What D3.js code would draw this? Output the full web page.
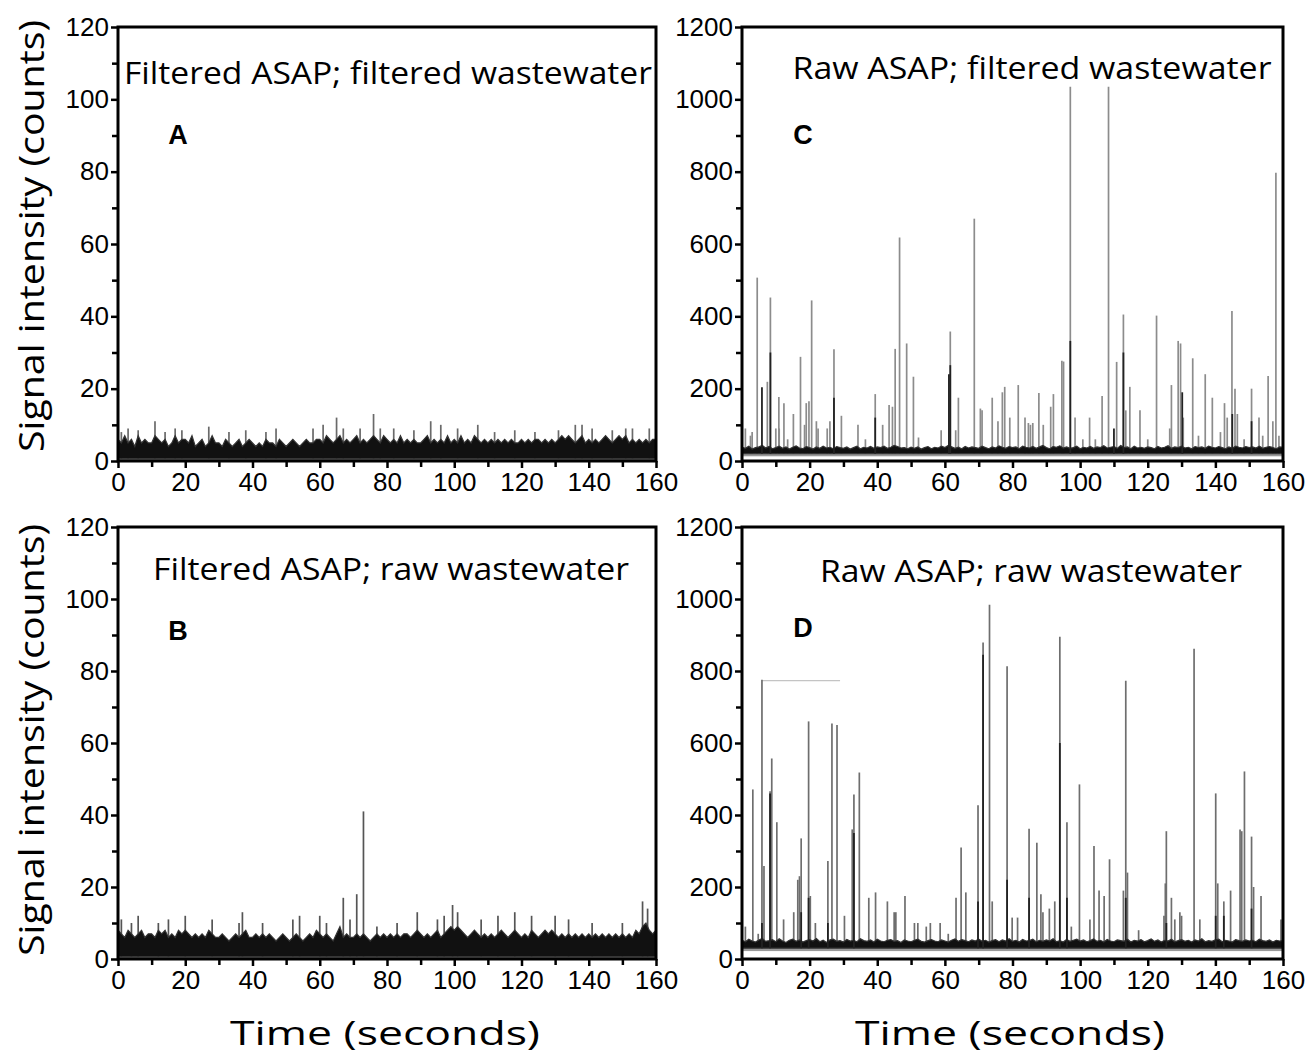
<!DOCTYPE html>
<html><head><meta charset="utf-8">
<script src="https://cdn.jsdelivr.net/npm/d3@7"></script>
<style>body{margin:0;background:#fff}svg{display:block}</style>
</head><body>
<svg id="chart" width="1307" height="1055"></svg>
<script>
// ---------------- DATA ----------------
const xTickValues = [0,20,40,60,80,100,120,140,160];
const yTicksLow = [0,20,40,60,80,100,120];
const yTicksHigh = [0,200,400,600,800,1000,1200];
const panelTitles = ["Filtered ASAP; filtered wastewater","Filtered ASAP; raw wastewater","Raw ASAP; filtered wastewater","Raw ASAP; raw wastewater"];
const panelLetters = ["A","B","C","D"];
const xAxisTitle = "Time (seconds)";
const yAxisTitle = "Signal intensity (counts)";

// baseline noise band: upper value each second (0..160 s)
const bandA = [6,5,7,5,6,4,7,5,6,5, 5,7,6,5,6,4,5,7,5,6, 6,5,7,4,5,6,4,5,7,5, 5,4,6,5,4,5,6,4,5,6, 5,4,5,4,6,5,5,4,6,5, 4,5,6,5,4,5,6,5,5,6, 6,5,7,6,5,6,7,5,6,5, 6,7,5,6,5,6,7,6,5,7, 6,5,6,5,7,5,6,5,6,5, 5,6,7,5,6,5,6,5,7,5, 6,5,7,5,6,5,7,6,5,6, 5,6,5,6,5,6,5,6,5,5, 6,5,6,5,6,6,5,6,5,6, 5,6,7,6,7,6,5,6,7,5, 6,5,6,5,6,7,6,5,6,7, 6,7,5,6,5,6,5,6,5,6, 6];
const bandB = [8,7,6,8,7,6,7,8,6,7, 7,6,8,7,8,6,7,6,8,7, 8,7,6,7,6,7,6,8,7,6, 6,7,6,5,6,7,6,7,8,6, 6,7,6,7,6,7,6,5,6,7, 6,5,6,7,6,5,6,7,6,8, 7,6,7,6,5,7,9,6,7,6, 6,7,6,7,6,5,6,7,6,7, 6,7,6,7,6,7,7,6,7,8, 7,6,7,6,7,8,6,7,8,9, 8,9,8,7,6,7,8,7,6,7, 6,7,6,7,8,7,6,7,8,7, 6,7,6,8,7,6,7,8,7,8, 7,6,7,6,7,6,7,6,7,6, 7,6,7,6,7,6,7,6,7,6, 7,6,7,6,8,7,9,10,8,7, 8];
const bandC = [38,35,41,33,37,39,43,36,40,34, 37,41,35,39,33,38,42,36,34,40, 37,33,39,35,41,36,38,34,40,37, 35,39,33,37,41,34,38,36,40,35, 39,37,41,35,38,43,40,36,37,34, 38,35,39,33,37,40,34,38,36,41, 37,43,39,35,38,34,40,36,39,37, 35,41,37,34,39,36,42,38,35,40, 37,39,34,41,38,36,40,35,39,43, 37,34,40,38,42,36,39,35,37,41, 34,38,36,40,35,39,37,42,36,38, 40,35,43,37,39,34,41,36,38,35, 39,37,34,40,36,38,42,35,39,37, 41,36,38,34,40,37,39,35,41,38, 36,40,37,34,39,35,41,38,36,40, 37,39,36,41,35,38,40,37,34,39, 38];
const bandD = [52,48,55,50,47,53,57,49,51,54, 48,56,50,46,52,55,49,53,47,51, 54,50,57,48,52,46,53,55,49,51, 47,54,50,52,48,56,51,49,53,47, 55,50,48,52,54,49,51,46,53,50, 48,52,55,49,47,51,54,50,48,53, 50,47,52,56,49,54,51,48,53,50, 55,49,52,47,51,54,48,53,50,56, 49,52,47,54,50,51,55,48,52,49, 53,50,56,48,51,47,54,49,52,55, 50,53,48,51,56,49,52,47,54,50, 48,53,51,49,55,47,52,50,54,48, 51,56,49,53,47,52,50,55,48,51, 54,49,52,47,53,50,56,48,51,49, 53,55,48,52,50,47,54,51,49,53, 50,52,48,55,51,49,53,47,52,50, 51];
const bandFloor = [0.6, 0.6, 20, 30];   // A, B, C, D: lower edge of the dense trace
const fuzzFloor = [0, 0, 13, 22];        // lower grey fuzz of the trace

// spikes: [time (s), counts]
const spikesA = [[1,8],[3,9],[6,8.5],[11,11],[14,8],[17,9],[19,8.5],[27,9.5],[33,8],[38,8.5],[44,8],[47,9],[58,9],[61,10],[65,12],[67,9],[72,9],[76,13],[78,9],[82,9],[88,8.5],[93,11],[96,10],[101,9],[107,10],[112,8],[118,8.5],[124,8],[131,8.5],[136,10],[138,10],[141,9],[147,8.5],[151,9],[153,9],[158,9]];
const spikesB = [[1,11],[4,10],[6,12],[12,10],[15,11],[20,12],[28,11],[36,10],[37,13],[43,10],[52,11],[54,12],[60,12],[62,10],[67,17],[69,11],[71,18],[73,41],[77,9],[83,10],[89,13],[95,11],[97,12],[99.5,15],[101,13],[108,11],[113,12],[118,13],[123,12],[130,12],[134,11],[141,10],[150,10],[156,16],[157.5,14]];
const spikesC = [[1,90],[2.5,70],[3,80],[4.5,507],[7.5,219],[8.4,452],[10,90],[11,90],[10.9,177],[12.4,160],[13.5,60],[15.2,130],[17.3,288],[18.5,100],[19,160],[19.8,165],[20.6,444],[22,110],[22.5,90],[25.2,90],[26,110],[27.2,309],[29.4,125],[34.3,100],[36.5,60],[39.4,185],[41.6,100],[43.5,155],[44.5,150],[45.3,310],[46.6,618],[48.7,325],[50.7,233],[52.2,65],[58.9,85],[61.6,358],[63.2,85],[64,175],[68.7,670],[70.5,145],[71,140],[74,175],[75.7,110],[77,190],[77.7,205],[79.2,120],[81.7,210],[83.7,120],[84.7,105],[85.3,100],[86,105],[87.8,188],[89.1,100],[91.3,150],[92.1,185],[94.6,277],[95.1,275],[97.1,1035],[98.5,120],[100.8,60],[102.8,120],[104.5,60],[106.5,180],[108.4,1035],[110.8,274],[112.8,405],[113.5,140],[114.7,205],[117.7,140],[120,60],[122.6,402],[126.5,90],[127,210],[129,332],[129.7,325],[130.5,120],[133.3,284],[135,70],[137,240],[139.1,175],[141.5,80],[142.7,160],[143.5,120],[144.9,415],[145.8,200],[146.5,130],[148.5,60],[150.7,200],[152.9,120],[154,70],[155.6,235],[157,110],[157.9,797],[158.8,70]];
const spikesCdark = [[5.9,204],[8.4,300],[27.2,175],[39.4,120],[61.2,240],[61.6,265],[97.1,332],[110,90],[112.8,300],[130.2,190],[145,130],[150.7,110]];
const spikesD = [[1,90],[3.2,471],[4.8,70],[5.9,776],[6.5,258],[8.3,466],[8.8,557],[10.3,380],[12.3,110],[15.3,130],[16.5,220],[17,230],[17.5,335],[19.7,660],[20.2,175],[21.7,100],[25.4,272],[26.6,654],[28.1,650],[30.3,120],[32.6,360],[33.1,457],[34.7,518],[37.5,170],[39.5,185],[43,160],[45,130],[45.5,130],[48.2,175],[51,100],[52,100],[54.5,90],[55.7,100],[58.6,100],[61,70],[63.3,170],[64.8,310],[66.2,185],[69.8,427],[71.3,879],[73.2,984],[74,160],[78.4,813],[79.9,115],[81.5,115],[84.9,362],[87.2,323],[88.4,180],[89,130],[90.9,140],[92.5,160],[94.0,895],[96.1,380],[97.4,90],[99.8,485],[102.9,110],[104.1,314],[105.6,190],[107.1,175],[108.7,277],[112.8,190],[113.5,773],[114,240],[117.3,80],[124.8,120],[125.2,210],[125.5,355],[127,170],[128,110],[129.5,130],[130,120],[133.7,862],[135.4,110],[140.1,460],[140.7,210],[142.5,160],[144.5,190],[147.3,360],[147.8,355],[148.6,521],[150.7,340],[151.3,200],[153.5,175],[159.4,110]];
const spikesDdark = [[5.9,100],[8.3,460],[17.5,130],[19.7,170],[25.4,100],[33.1,350],[69.8,160],[71.3,845],[78.4,220],[84.9,170],[94,600],[96.1,170],[113.5,170],[125.5,100],[140.1,120],[142.5,120],[150.7,140]];
const artifactD = [[5.9,773],[29,773]];

// ---------------- LAYOUT ----------------
const svg = d3.select("#chart");
const panels = [
  {key:"A", left:118, right:656, top:27, bottom:461, ymax:120, yTicks:yTicksLow, band:bandA, floor:bandFloor[0], fuzz:fuzzFloor[0], spikes:spikesA, dark:[], title:panelTitles[0], tx:388, tby:84, tlen:528, spikeColor:"#6a6a6a", lx:178, ly:144},
  {key:"B", left:118, right:656, top:527, bottom:959, ymax:120, yTicks:yTicksLow, band:bandB, floor:bandFloor[1], fuzz:fuzzFloor[1], spikes:spikesB, dark:[], title:panelTitles[1], tx:391, tby:580, tlen:476, spikeColor:"#555", lx:178, ly:640},
  {key:"C", left:742, right:1283, top:27, bottom:461, ymax:1200, yTicks:yTicksHigh, band:bandC, floor:bandFloor[2], fuzz:fuzzFloor[2], spikes:spikesC, dark:spikesCdark, title:panelTitles[2], tx:1032, tby:79, tlen:479, spikeColor:"#8c8c8c", lx:803, ly:144},
  {key:"D", left:742, right:1283, top:527, bottom:959, ymax:1200, yTicks:yTicksHigh, band:bandD, floor:bandFloor[3], fuzz:fuzzFloor[3], spikes:spikesD, dark:spikesDdark, title:panelTitles[3], tx:1031, tby:582, tlen:422, spikeColor:"#6e6e6e", lx:803, ly:637}
];

panels.forEach((p,pi)=>{
  const x = d3.scaleLinear().domain([0,160]).range([p.left,p.right]);
  const y = d3.scaleLinear().domain([0,p.ymax]).range([p.bottom,p.top]);
  const g = svg.append("g");
  const clipId = "clip"+p.key;
  svg.append("clipPath").attr("id",clipId).append("rect")
    .attr("x",p.left).attr("y",p.top).attr("width",p.right-p.left).attr("height",p.bottom-p.top);
  const plot = g.append("g").attr("clip-path",`url(#${clipId})`);

  if(p.key==="D"){
    plot.append("line").attr("x1",x(artifactD[0][0])).attr("x2",x(artifactD[1][0]))
      .attr("y1",y(artifactD[0][1])).attr("y2",y(artifactD[1][1]))
      .attr("stroke","#c4c4c4").attr("stroke-width",1.2);
  }
  // spikes
  plot.selectAll("line.sp").data(p.spikes).join("line").attr("class","sp")
    .attr("x1",d=>x(d[0])).attr("x2",d=>x(d[0]))
    .attr("y1",y(p.floor)).attr("y2",d=>y(d[1]))
    .attr("stroke",p.spikeColor).attr("stroke-width",1.7);
  // grey fuzz under the trace
  if(p.fuzz < p.floor){
    plot.append("rect").attr("x",x(0)).attr("width",x(160)-x(0))
      .attr("y",y(p.floor)).attr("height",y(p.fuzz)-y(p.floor)).attr("fill","#9a9a9a");
  }
  // noise band
  const area = d3.area().x((d,i)=>x(i)).y0(y(p.floor)).y1(d=>y(d));
  plot.append("path").datum(p.band).attr("d",area).attr("fill","#111")
    .attr("stroke","#333").attr("stroke-width",1.2).attr("stroke-linejoin","miter");
  // dark spikes
  plot.selectAll("line.dk").data(p.dark).join("line").attr("class","dk")
    .attr("x1",d=>x(d[0])).attr("x2",d=>x(d[0]))
    .attr("y1",y(p.floor)).attr("y2",d=>y(d[1]))
    .attr("stroke","#222").attr("stroke-width",1.8);

  // frame
  g.append("rect").attr("x",p.left).attr("y",p.top).attr("width",p.right-p.left).attr("height",p.bottom-p.top)
    .attr("fill","none").attr("stroke","#000").attr("stroke-width",3);

  // axes
  const xMinor = d3.range(10,160,20);
  const xg = g.append("g").attr("transform",`translate(0,${p.bottom})`)
    .call(d3.axisBottom(x).tickValues(xTickValues).tickSize(7).tickPadding(4).tickFormat(d3.format("d")));
  const xm = g.append("g").attr("transform",`translate(0,${p.bottom})`)
    .call(d3.axisBottom(x).tickValues(xMinor).tickSize(6).tickFormat(""));
  const step = p.yTicks[1]-p.yTicks[0];
  const yMinor = d3.range(step/2, p.ymax, step);
  const yg = g.append("g").attr("transform",`translate(${p.left},0)`)
    .call(d3.axisLeft(y).tickValues(p.yTicks).tickSize(7).tickPadding(2).tickFormat(d3.format("d")));
  const ym = g.append("g").attr("transform",`translate(${p.left},0)`)
    .call(d3.axisLeft(y).tickValues(yMinor).tickSize(6).tickFormat(""));
  [xg,xm,yg,ym].forEach(a=>{
    a.select(".domain").remove();
    a.selectAll(".tick line").attr("stroke","#000").attr("stroke-width",2.5);
    a.selectAll(".tick text").attr("font-family","'Liberation Sans', Arial, sans-serif").attr("font-size",26).attr("fill","#000");
  });
  xg.selectAll(".tick text").attr("dy","0.74em");

  // title
  g.append("text").attr("x",p.tx).attr("y",p.tby).attr("text-anchor","middle")
    .attr("font-family","'Open Sans', sans-serif").attr("font-size",31)
    .attr("textLength",p.tlen).attr("lengthAdjust","spacingAndGlyphs").text(p.title);
  // letter
  g.append("text").attr("x",p.lx).attr("y",p.ly)
    .attr("text-anchor","middle").attr("font-family","'Liberation Sans', Arial, sans-serif")
    .attr("font-weight","bold").attr("font-size",27).text(panelLetters[pi]);

  // axis titles
  if(p.key==="B"||p.key==="D"){
    g.append("text").attr("x",p.key==="B"?385:1010).attr("y",1045).attr("text-anchor","middle")
      .attr("font-family","'Open Sans', sans-serif").attr("font-size",33)
      .attr("textLength",310).attr("lengthAdjust","spacingAndGlyphs").text(xAxisTitle);
  }
  if(p.key==="A"||p.key==="B"){
    const cy = p.key==="A"?236:740;
    g.append("text").attr("transform",`translate(44,${cy}) rotate(-90)`).attr("text-anchor","middle")
      .attr("font-family","'Open Sans', sans-serif").attr("font-size",34)
      .attr("textLength",432).attr("lengthAdjust","spacingAndGlyphs").text(yAxisTitle);
  }
});
</script>
</body></html>
